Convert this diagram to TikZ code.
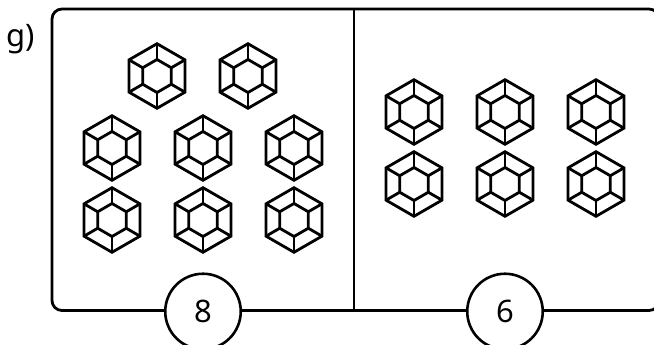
\documentclass[tikz,border=0pt]{standalone}
\usepackage{fontspec}
\setmainfont{Noto Sans}
\tikzset{
  frameline/.style={draw=black, line width=2.8pt},
  countnode/.style={circle, draw=black, fill=white, line width=2.6pt, minimum size=75.5pt, inner sep=0pt, font=\fontsize{31}{31}\selectfont},
  pics/gem/.style={code={
    \draw[line width=2.8pt, line join=miter] (90:32.3pt) -- (150:32.3pt) -- (210:32.3pt) -- (270:32.3pt) -- (330:32.3pt) -- (30:32.3pt) -- cycle;
    \draw[line width=2.8pt] (90:16.5pt) -- (150:16.5pt) -- (210:16.5pt) -- (270:16.5pt) -- (330:16.5pt) -- (30:16.5pt) -- cycle;
    \foreach \a in {30,90,...,330}
      \draw[line width=2.8pt] (\a:16.5pt) -- (\a:32.3pt);
  }}
}
\begin{document}
\begin{tikzpicture}[x=1pt, y=-1pt]
  \useasboundingbox (0,0) rectangle (654,345);
  \node (label) [anchor=base west, inner sep=0pt, font=\fontsize{31}{31}\selectfont] at (6,47) {g)};
  \coordinate (divtop) at (354,9);
  \coordinate (divbot) at (354,310.5);
  \draw[frameline, rounded corners=10pt] (52,9) rectangle (659,310.5);
  \draw[frameline] (divtop) -- (divbot);
  \node (left) [countnode] at (203,311.5) {8};
  \node (right) [countnode] at (505,311.5) {6};
  % left box
  \foreach \x/\y in {157/76, 248/76, 112/148, 203/148, 294/148, 112/220, 203/220, 294/220}
    \pic at (\x,\y) {gem};
  % right box
  \foreach \x/\y in {414/112, 505/112, 596/112, 414/184, 505/184, 596/184}
    \pic at (\x,\y) {gem};
\end{tikzpicture}
\end{document}
